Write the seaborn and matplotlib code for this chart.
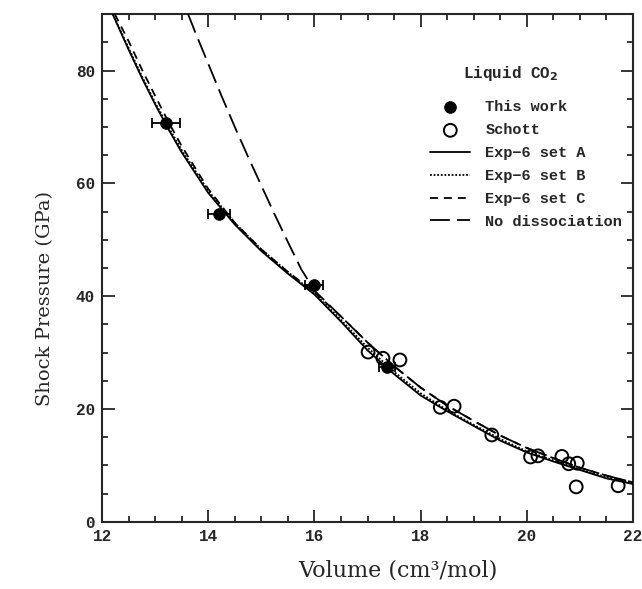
import pandas as pd
import seaborn as sns
import matplotlib.pyplot as plt

# Hugoniot of liquid CO2: measured points and model curves

# This work (filled), with volume error bars
work_v = [13.2, 14.2, 16.0, 17.37]
work_p = [70.7, 54.6, 42.0, 27.5]
work_verr = [0.26, 0.2, 0.17, 0.15]

# Schott data (open circles)
schott_v = [17.01, 17.29, 17.61, 18.37, 18.63, 19.34, 20.07, 20.21, 20.66, 20.79, 20.95, 20.93, 21.72]
schott_p = [30.1, 29.0, 28.7, 20.3, 20.5, 15.4, 11.5, 11.7, 11.6, 10.3, 10.4, 6.2, 6.4]

# Exp-6 set A
a_v = [12.2, 12.5, 12.75, 13.0, 13.25, 13.5, 14.0, 14.5, 15.0, 15.5, 16.0, 16.5, 17.0, 17.5, 18.0, 18.5, 19.0, 19.5, 20.0, 20.5, 21.0, 21.5, 22.0]
a_p = [90.0, 83.7, 78.7, 74.0, 69.6, 65.5, 58.3, 52.7, 48.0, 44.0, 40.3, 35.5, 30.4, 26.2, 22.4, 19.6, 17.0, 14.4, 12.3, 10.7, 9.2, 7.7, 6.7]

# Exp-6 set B
b_v = [12.2, 12.5, 12.75, 13.0, 13.25, 13.5, 14.0, 14.5, 15.0, 15.5, 16.0, 16.5, 17.0, 17.5, 18.0, 18.5, 19.0, 19.5, 20.0, 20.5, 21.0, 21.5, 22.0]
b_p = [90.0, 84.0, 79.0, 74.3, 70.0, 65.9, 58.7, 53.0, 48.3, 44.3, 40.5, 35.8, 30.9, 26.6, 22.8, 19.8, 17.2, 14.7, 12.5, 10.9, 9.3, 7.9, 6.8]

# Exp-6 set C
c_v = [12.24, 12.5, 12.75, 13.0, 13.25, 13.5, 14.0, 14.5, 15.0, 15.5, 16.0, 16.5, 17.0, 17.5, 18.0, 18.5, 19.0, 19.5, 20.0, 20.5, 21.0, 21.5, 22.0]
c_p = [90.0, 85.2, 80.2, 75.5, 70.9, 66.6, 59.0, 53.0, 48.3, 44.3, 40.7, 36.4, 31.8, 27.6, 23.8, 20.6, 17.9, 15.3, 13.1, 11.3, 9.6, 8.2, 7.0]

# No dissociation
nd_v = [13.62, 13.75, 14.0, 14.25, 14.5, 14.75, 15.0, 15.25, 15.5, 15.75, 16.0, 16.5, 17.0, 17.5, 18.0, 18.5, 19.0, 19.5, 20.0, 20.5, 21.0, 21.5, 22.0]
nd_p = [90.0, 86.9, 81.2, 75.5, 70.0, 64.7, 59.6, 54.5, 49.6, 44.8, 41.0, 36.4, 31.8, 27.6, 23.8, 20.6, 17.9, 15.3, 13.1, 11.3, 9.6, 8.2, 7.0]

sns.set_style("ticks")
plt.rcParams['font.family'] = ['Liberation Mono', 'DejaVu Sans']
plt.rcParams['font.weight'] = 'bold'

fig = plt.figure(figsize=(6.42, 5.89), dpi=100)
ax = fig.add_axes([0.159, 0.114, 0.827, 0.862])

curves = [
    (a_v, a_p, "Exp\u22126 set A", "-"),
    (b_v, b_p, "Exp\u22126 set B", (0, (1, 1))),
    (c_v, c_p, "Exp\u22126 set C", (0, (4.4, 3.3))),
    (nd_v, nd_p, "No dissociation", (0, (11, 4))),
]

ax.errorbar(work_v, work_p, xerr=work_verr, fmt='none', ecolor='black',
            elinewidth=1.3, capsize=3.5, capthick=1.3, zorder=4)
sns.scatterplot(x=work_v, y=work_p, ax=ax, color='black', marker='o', s=70,
                edgecolor='black', label="This work", zorder=5)
sns.scatterplot(x=schott_v, y=schott_p, ax=ax, facecolor='none', marker='o', s=85,
                edgecolor='black', linewidth=1.4, label="Schott", zorder=5)

for v, p, lab, ls in curves:
    d = pd.DataFrame({'v': v, 'p': p})
    sns.lineplot(data=d, x='v', y='p', ax=ax, color='black', linewidth=1.3,
                 linestyle=ls, sort=False, label=lab, zorder=3)

ax.set_xlim(12, 22)
ax.set_ylim(0, 90)
ax.set_xticks([12, 14, 16, 18, 20, 22])
ax.set_xticks([12 + 0.5 * i for i in range(21)], minor=True)
ax.set_yticks([0, 20, 40, 60, 80])
ax.set_yticks(list(range(0, 91, 5)), minor=True)
ax.tick_params(which='both', direction='in', top=True, right=True, width=1.3,
               labelsize=11.5, pad=5)
ax.tick_params(which='major', length=9)
ax.tick_params(which='minor', length=4.5)
for s in ax.spines.values():
    s.set_linewidth(1.5)

ax.set_xlabel("Volume (cm\u00b3/mol)", family='DejaVu Serif', fontsize=16,
              fontweight='normal', va='center')
ax.set_ylabel("Shock Pressure (GPa)", family='DejaVu Serif', fontsize=14,
              fontweight='normal', va='center')
ax.xaxis.set_label_coords(0.557, -0.096)
ax.yaxis.set_label_coords(-0.108, 0.439)

ax.text(0.77, 0.884, "Liquid CO$_2$", transform=ax.transAxes, ha='center',
        va='center', fontsize=11.5, fontweight='bold')

leg = ax.legend(loc='upper right', bbox_to_anchor=(1.0, 0.851), frameon=False,
                fontsize=11, handlelength=2.6, handletextpad=1.0,
                labelspacing=0.58, borderaxespad=0.3)

fig.savefig("out.png", dpi=100)
